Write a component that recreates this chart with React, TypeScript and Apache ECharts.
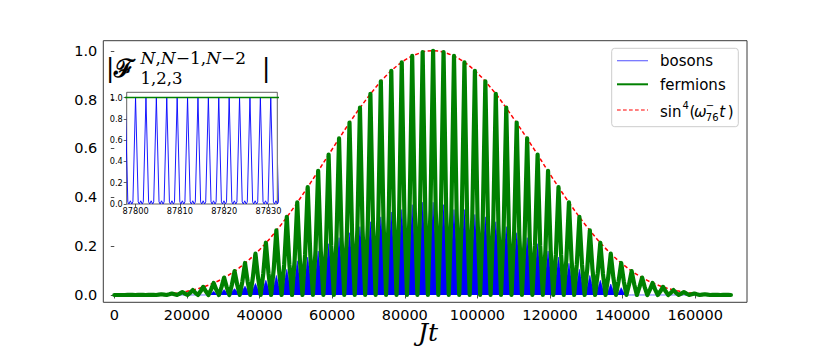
import React, { useEffect, useRef } from "react";
import * as echarts from "echarts";

// ---------- data ----------
const xTicks = [0, 20000, 40000, 60000, 80000, 100000, 120000, 140000, 160000];
const yTicks = [0, 0.2, 0.4, 0.6, 0.8, 1.0];
const insetXTicks = [87800, 87810, 87820, 87830];
const insetYTicks = [0, 0.2, 0.4, 0.6, 0.8, 1.0];

const dataStart = 0;
const dataEnd = 170000;

// fermion slow-oscillation peaks (Jt), peak heights and mid-flank heights
const fermionPeakT = [
  1460, 4338, 7216, 10094, 12972, 15850, 18728, 21606, 24484, 27362,
  30240, 33118, 35996, 38874, 41752, 44630, 47508, 50386, 53264, 56142,
  59020, 61898, 64776, 67654, 70532, 73410, 76288, 79166, 82044, 84922,
  87800,
  90678, 93556, 96434, 99312, 102190, 105068, 107946, 110824, 113702, 116580,
  119458, 122336, 125214, 128092, 130970, 133848, 136726, 139604, 142482, 145360,
  148238, 151116, 153994, 156872, 159750, 162628, 165506, 168384,
];
const fermionPeakH = [
  0, 0.00004, 0.0003, 0.001, 0.003, 0.006, 0.012, 0.02, 0.033, 0.049,
  0.071, 0.098, 0.131, 0.169, 0.214, 0.265, 0.32, 0.379, 0.442, 0.508,
  0.575, 0.641, 0.706, 0.767, 0.824, 0.875, 0.918, 0.953, 0.979, 0.995,
  1.0,
  0.995, 0.979, 0.953, 0.918, 0.875, 0.824, 0.767, 0.706, 0.641, 0.575,
  0.508, 0.442, 0.379, 0.32, 0.265, 0.214, 0.169, 0.131, 0.098, 0.071,
  0.049, 0.033, 0.02, 0.012, 0.006, 0.003, 0.001, 0.0003,
];
const fermionFlankH = [
  0, 0.00002, 0.00014, 0.00045, 0.0014, 0.0028, 0.0055, 0.009, 0.015, 0.022,
  0.032, 0.043, 0.056, 0.071, 0.088, 0.106, 0.125, 0.144, 0.164, 0.183,
  0.201, 0.224, 0.247, 0.268, 0.288, 0.306, 0.321, 0.334, 0.343, 0.348,
  0.35,
  0.348, 0.343, 0.334, 0.321, 0.306, 0.288, 0.268, 0.247, 0.224, 0.201,
  0.183, 0.164, 0.144, 0.125, 0.106, 0.088, 0.071, 0.056, 0.043, 0.032,
  0.022, 0.015, 0.009, 0.0055, 0.0028, 0.0014, 0.00045, 0.00014,
];
// boson fill (shoulder level and spike height) inside each fermion arch
const bosonShoulder = [
  0, 0, 0, 0, 0, 0, 0, 0, 0,
  0.006, 0.01, 0.015, 0.02, 0.025, 0.032, 0.04, 0.055, 0.07, 0.085, 0.1,
  0.12, 0.14, 0.16, 0.18, 0.19, 0.21, 0.2, 0.22, 0.21, 0.23,
  0.22,
  0.23, 0.21, 0.22, 0.2, 0.21, 0.19, 0.18, 0.16, 0.14, 0.12,
  0.1, 0.085, 0.07, 0.055, 0.04, 0.03, 0.02, 0.012,
  0, 0, 0, 0, 0, 0, 0, 0, 0, 0,
];
const bosonSpike = [
  0, 0, 0, 0, 0, 0, 0, 0, 0,
  0.015, 0.022, 0.026, 0.036, 0.047, 0.06, 0.08, 0.105, 0.14, 0.155, 0.18,
  0.21, 0.235, 0.255, 0.28, 0.3, 0.32, 0.34, 0.35, 0.37, 0.38,
  0.38,
  0.37, 0.35, 0.35, 0.33, 0.32, 0.3, 0.28, 0.255, 0.235, 0.21,
  0.18, 0.155, 0.13, 0.105, 0.08, 0.06, 0.045, 0.03,
  0, 0, 0, 0, 0, 0, 0, 0, 0, 0,
];

// sin^4 envelope
const envelopeT = [
  0, 5000, 10000, 15000, 20000, 25000, 30000, 35000, 40000, 45000,
  50000, 55000, 60000, 65000, 70000, 75000, 80000, 85000, 87800, 90000,
  95000, 100000, 105000, 110000, 115000, 120000, 125000, 130000, 135000, 140000,
  145000, 150000, 155000, 160000, 165000, 170000,
];
const envelopeV = [
  0, 0.0001, 0.001, 0.0049, 0.015, 0.035, 0.0683, 0.118, 0.1852, 0.27,
  0.3701, 0.4811, 0.5969, 0.7101, 0.8127, 0.8998, 0.9615, 0.9954, 1.0, 0.9969,
  0.9671, 0.9089, 0.8247, 0.7221, 0.611, 0.4947, 0.3835, 0.2822, 0.1954, 0.1261,
  0.0742, 0.0388, 0.0172, 0.006, 0.0013, 0.0001,
];

// inset: fast boson oscillation near Jt = 87800
const insetPeakT = [
  87797.652, 87800.0, 87802.348, 87804.696, 87807.044, 87809.392, 87811.74, 87814.088,
  87816.436, 87818.784, 87821.132, 87823.48, 87825.828, 87828.176, 87830.524, 87832.872,
];
const insetPeakV = [1, 1, 1, 1, 1, 1, 1, 1, 1, 1, 1, 1, 1, 1, 1, 1];
const insetDipOffset = [0.6, 0.85, 1.17, 1.5, 1.75];
const insetDipV = [0.02, 0.0, 0.03, 0.0, 0.02];
const insetFermionT = [87797, 87833];
const insetFermionV = [1, 1];

// ---------- build series data ----------
function neighbours(i: number): [number, number] {
  const n = fermionPeakT.length;
  const t = fermionPeakT[i];
  const prev = i > 0 ? fermionPeakT[i - 1] : t - (fermionPeakT[1] - fermionPeakT[0]);
  const next = i < n - 1 ? fermionPeakT[i + 1] : t + (t - fermionPeakT[n - 2]);
  return [prev, next];
}

function buildFermion(): number[][] {
  const out: number[][] = [[dataStart, 0]];
  const n = fermionPeakT.length;
  for (let i = 0; i < n; i++) {
    const t = fermionPeakT[i];
    const [prev, next] = neighbours(i);
    const left = (prev + t) / 2;
    const right = (t + next) / 2;
    out.push([left, 0]);
    out.push([(left + t) / 2, fermionFlankH[i]]);
    out.push([t, fermionPeakH[i]]);
    out.push([(t + right) / 2, fermionFlankH[i]]);
  }
  const [, nextLast] = neighbours(n - 1);
  out.push([(fermionPeakT[n - 1] + nextLast) / 2, 0]);
  out.push([dataEnd, 0]);
  return out;
}

function buildBoson(): number[][] {
  const out: number[][] = [[dataStart, 0]];
  const n = fermionPeakT.length;
  for (let i = 0; i < n; i++) {
    const t = fermionPeakT[i];
    const [prev, next] = neighbours(i);
    const q = 0.22 * (next - prev) / 2;
    out.push([(prev + t) / 2, 0]);
    out.push([t - q, bosonShoulder[i]]);
    out.push([t, bosonSpike[i]]);
    out.push([t + q, bosonShoulder[i]]);
  }
  const [, nextLast] = neighbours(n - 1);
  out.push([(fermionPeakT[n - 1] + nextLast) / 2, 0]);
  out.push([dataEnd, 0]);
  return out;
}

function buildInsetBoson(): number[][] {
  const out: number[][] = [];
  const n = insetPeakT.length;
  for (let i = 0; i < n; i++) {
    out.push([insetPeakT[i], insetPeakV[i]]);
    if (i < n - 1) {
      for (let j = 0; j < insetDipOffset.length; j++) {
        out.push([insetPeakT[i] + insetDipOffset[j], insetDipV[j]]);
      }
    }
  }
  return out;
}

const envelopeData = envelopeT.map((t, i) => [t, envelopeV[i]]);
const insetFermionData = insetFermionT.map((t, i) => [t, insetFermionV[i]]);

// ---------- styling ----------
const SPINE = "#3a3a3a";
const FONT = "DejaVu Sans";
const SERIF = "DejaVu Serif";

function buildOption(): any {
  const tickLabel = (size: number, margin: number) => ({
    fontSize: size,
    fontFamily: FONT,
    color: "#000",
    margin,
    hideOverlap: false,
  });

  const textEl = (text: string, x: number, y: number, extra: any = {}) => ({
    type: "text",
    x,
    y,
    z: 100,
    style: {
      text,
      fill: "#000",
      fontFamily: FONT,
      fontSize: 15,
      align: "left",
      verticalAlign: "middle",
      ...extra,
    },
  });

  return {
    animation: false,
    backgroundColor: "#ffffff",
    grid: [
      {
        left: 103.3,
        top: 40.7,
        width: 643.7,
        height: 261.6,
        show: true,
        borderColor: SPINE,
        borderWidth: 1,
        backgroundColor: "transparent",
      },
      {
        left: 126.7,
        top: 92.3,
        width: 150.6,
        height: 111.7,
        show: true,
        borderColor: SPINE,
        borderWidth: 0.8,
        backgroundColor: "#ffffff",
        z: 5,
      },
    ],
    xAxis: [
      {
        type: "value",
        gridIndex: 0,
        min: -3030,
        max: 174250,
        axisLine: { show: false },
        splitLine: { show: false },
        axisTick: {
          show: true,
          inside: false,
          length: 3.5,
          lineStyle: { color: SPINE, width: 0.9 },
          customValues: xTicks,
        },
        axisLabel: {
          ...tickLabel(14.5, 5),
          customValues: xTicks,
          formatter: (v: number) => String(Math.round(v)),
        },
      },
      {
        type: "value",
        gridIndex: 1,
        min: 87798,
        max: 87832,
        z: 5,
        axisLine: { show: false },
        splitLine: { show: false },
        axisTick: {
          show: true,
          inside: false,
          length: 3,
          lineStyle: { color: SPINE, width: 0.8 },
          customValues: insetXTicks,
        },
        axisLabel: {
          ...tickLabel(8.2, 3),
          customValues: insetXTicks,
          formatter: (v: number) => String(Math.round(v)),
        },
      },
    ],
    yAxis: [
      {
        type: "value",
        gridIndex: 0,
        min: -0.03,
        max: 1.0414,
        axisLine: { show: false },
        splitLine: { show: false },
        axisTick: {
          show: true,
          inside: false,
          length: 3.5,
          lineStyle: { color: SPINE, width: 0.9 },
          customValues: yTicks,
        },
        axisLabel: {
          ...tickLabel(14.5, 6),
          customValues: yTicks,
          formatter: (v: number) => v.toFixed(1),
        },
      },
      {
        type: "value",
        gridIndex: 1,
        min: 0,
        max: 1.05,
        z: 5,
        axisLine: { show: false },
        splitLine: { show: false },
        axisTick: {
          show: true,
          inside: false,
          length: 3,
          lineStyle: { color: SPINE, width: 0.8 },
          customValues: insetYTicks,
        },
        axisLabel: {
          ...tickLabel(8.2, 4),
          customValues: insetYTicks,
          formatter: (v: number) => v.toFixed(1),
        },
      },
    ],
    series: [
      {
        name: "bosons",
        type: "line",
        xAxisIndex: 0,
        yAxisIndex: 0,
        data: buildBoson(),
        symbol: "none",
        silent: true,
        z: 1,
        lineStyle: { color: "#0000ff", width: 0.6 },
        areaStyle: { color: "#0000ff", opacity: 1 },
      },
      {
        name: "sin4",
        type: "line",
        xAxisIndex: 0,
        yAxisIndex: 0,
        data: envelopeData,
        symbol: "none",
        smooth: 0.35,
        silent: true,
        z: 2,
        lineStyle: { color: "#ff0000", width: 1.5, type: [4, 2.5] },
      },
      {
        name: "fermions",
        type: "line",
        xAxisIndex: 0,
        yAxisIndex: 0,
        data: buildFermion(),
        symbol: "none",
        silent: true,
        z: 3,
        lineStyle: { color: "#008000", width: 4.2, join: "round", cap: "round" },
      },
      {
        name: "bosons inset",
        type: "line",
        xAxisIndex: 1,
        yAxisIndex: 1,
        data: buildInsetBoson(),
        symbol: "none",
        silent: true,
        z: 6,
        lineStyle: { color: "#0000ff", width: 0.9 },
      },
      {
        name: "fermions inset",
        type: "line",
        xAxisIndex: 1,
        yAxisIndex: 1,
        data: insetFermionData,
        symbol: "none",
        silent: true,
        z: 7,
        lineStyle: { color: "#008000", width: 1.5 },
      },
    ],
    graphic: [
      // panel label |F^{N,N-1,N-2}_{1,2,3}|
      textEl("|", 110, 67.5, { fontFamily: SERIF, fontSize: 26, align: "center" }),
      textEl("ℱ", 114, 68, { fontFamily: SERIF, fontSize: 25, fontWeight: "bold", lineHeight: 24 }),
      {
        type: "text",
        x: 140.5,
        y: 58.3,
        z: 100,
        style: {
          text: "{i|N},{i|N}−1,{i|N}−2",
          fill: "#000",
          fontFamily: SERIF,
          fontSize: 17,
          lineHeight: 14,
          verticalAlign: "middle",
          rich: {
            i: { fontFamily: SERIF, fontStyle: "italic", fontSize: 17, lineHeight: 14, fill: "#000" },
          },
        },
      },
      textEl("1,2,3", 140.5, 78.2, { fontFamily: SERIF, fontSize: 16.5, lineHeight: 14 }),
      textEl("|", 266, 67.5, { fontFamily: SERIF, fontSize: 26, align: "center" }),

      // x axis title
      textEl("Jt", 428, 332, {
        fontFamily: SERIF,
        fontStyle: "italic",
        fontSize: 25,
        lineHeight: 20,
        align: "center",
      }),

      // legend box
      {
        type: "rect",
        z: 90,
        shape: { x: 611.7, y: 48.3, width: 126.6, height: 78.4, r: 3 },
        style: { fill: "rgba(255,255,255,0.8)", stroke: "#cccccc", lineWidth: 1 },
      },
      {
        type: "line",
        z: 95,
        shape: { x1: 617, y1: 60.7, x2: 648, y2: 60.7 },
        style: { stroke: "#6c6cff", lineWidth: 1.2 },
      },
      {
        type: "line",
        z: 95,
        shape: { x1: 617, y1: 84.3, x2: 648, y2: 84.3 },
        style: { stroke: "#008000", lineWidth: 2 },
      },
      {
        type: "line",
        z: 95,
        shape: { x1: 617, y1: 110, x2: 648, y2: 110 },
        style: { stroke: "#ff0000", lineWidth: 1.2, lineDash: [3.7, 2.3] },
      },
      textEl("bosons", 660, 61, {}),
      textEl("fermions", 660, 85, {}),
      textEl("sin", 660, 112.4, { lineHeight: 12 }),
      textEl("4", 682.5, 105.5, { fontSize: 10, lineHeight: 7 }),
      textEl("(", 689.5, 112.4, { lineHeight: 12 }),
      textEl("ω", 694, 112.4, { fontStyle: "italic", lineHeight: 10 }),
      textEl("−", 705.8, 105.8, { fontSize: 10, lineHeight: 6 }),
      textEl("76", 705.8, 117, { fontSize: 10, lineHeight: 7 }),
      textEl("t", 719.3, 112.4, { fontStyle: "italic", lineHeight: 12 }),
      textEl(")", 727.8, 112.4, { lineHeight: 12 }),
    ],
  };
}

export default function App() {
  const ref = useRef<HTMLDivElement>(null);
  useEffect(() => {
    if (!ref.current) return;
    const chart = echarts.init(ref.current, null, { renderer: "svg" });
    chart.setOption(buildOption());
    return () => {
      chart.dispose();
    };
  }, []);
  return (
    <div
      ref={ref}
      style={{
        position: "fixed",
        left: 0,
        top: 0,
        width: 830,
        height: 347,
        background: "#ffffff",
      }}
    />
  );
}
